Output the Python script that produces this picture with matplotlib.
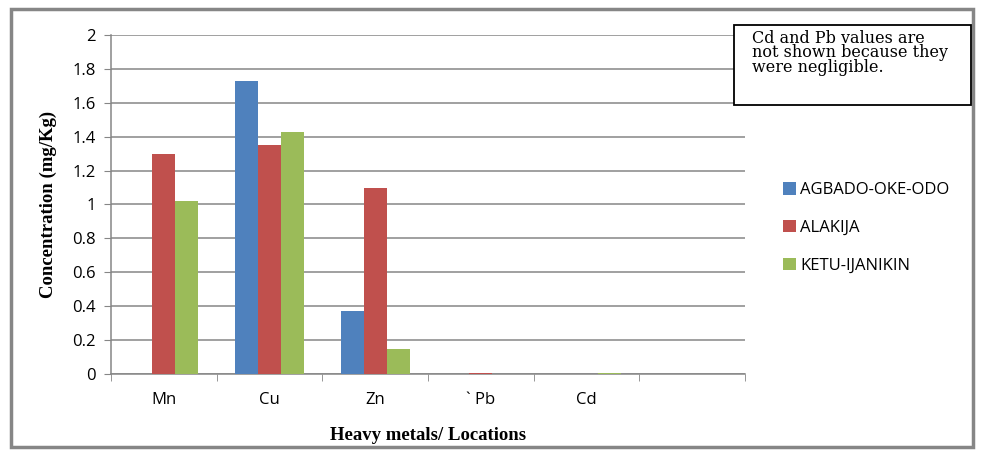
import matplotlib.pyplot as plt
from matplotlib.patches import Rectangle
import numpy as np

categories = ["Mn", "Cu", "Zn", "` Pb", "Cd", ""]
series_names = ["AGBADO-OKE-ODO", "ALAKIJA", "KETU-IJANIKIN"]
agbado = [0.0, 1.73, 0.37, 0.0, 0.0, 0.0]
alakija = [1.30, 1.35, 1.10, 0.006, 0.0, 0.0]
ketu = [1.02, 1.43, 0.15, 0.0, 0.006, 0.0]
colors = ["#4F81BD", "#C0504D", "#9BBB59"]
yticks = [0, 0.2, 0.4, 0.6, 0.8, 1, 1.2, 1.4, 1.6, 1.8, 2]
ytick_labels = ["0", "0.2", "0.4", "0.6", "0.8", "1", "1.2", "1.4", "1.6", "1.8", "2"]

W, H = 990, 459
fig = plt.figure(figsize=(W / 100, H / 100), dpi=100)
ax = fig.add_axes([111 / W, 1 - 374 / H, (745 - 111) / W, (374 - 35) / H])

x = np.arange(len(categories))
bw = 0.218
for i, (vals, name) in enumerate(zip([agbado, alakija, ketu], series_names)):
    ax.bar(x + (i - 1) * bw, vals, width=bw, color=colors[i], label=name, zorder=3)

ax.set_xlim(-0.5, len(categories) - 0.5)
ax.set_ylim(0, 2)
ax.set_yticks(yticks)
ax.set_yticklabels(ytick_labels, fontsize=12, family="Open Sans")
ax.set_xticks(x)
ax.set_xticklabels(categories, fontsize=12, family="Open Sans")
ax.tick_params(axis="x", length=0, pad=13)
ax.set_xticks(np.arange(-0.5, len(categories)), minor=True)
ax.tick_params(axis="x", which="minor", length=5, color="#868686", direction="out")
ax.tick_params(axis="y", length=5, color="#868686", direction="out", pad=6)
ax.yaxis.grid(True, color="#868686", linewidth=1.1, zorder=0)
for s in ["top", "right"]:
    ax.spines[s].set_visible(False)
for s in ["left", "bottom"]:
    ax.spines[s].set_color("#868686")
    ax.spines[s].set_linewidth(1.1)

ax.set_ylabel("Concentration (mg/Kg)", fontsize=13.5, fontweight="bold",
              family="Liberation Serif", labelpad=11)
ax.set_xlabel("Heavy metals/ Locations", fontsize=13.5, fontweight="bold",
              family="Liberation Serif", labelpad=14)

leg = fig.legend(loc="center left", bbox_to_anchor=(768 / W, 1 - 228 / H),
                 frameon=False, prop={"family": "Open Sans", "size": 12},
                 handlelength=0.75, handleheight=0.75, handletextpad=0.3,
                 labelspacing=1.3)

# annotation box
fig.patches.append(Rectangle((734 / W, 1 - 105 / H), (971 - 734) / W, (105 - 25) / H,
                             transform=fig.transFigure, fill=True, facecolor="white",
                             edgecolor="black", linewidth=1.3, zorder=5))
fig.text(752 / W, 1 - 30 / H,
         "Cd and Pb values are\nnot shown because they\nwere negligible.",
         family="DejaVu Serif", fontsize=11.5, va="top", ha="left",
         linespacing=0.8, zorder=6)

# outer border
fig.patches.append(Rectangle((11 / W, 1 - 447 / H), (973 - 11) / W, (447 - 9) / H,
                             transform=fig.transFigure, fill=False,
                             edgecolor="#868686", linewidth=2.5, zorder=1))

fig.savefig("out.png", dpi=100)
